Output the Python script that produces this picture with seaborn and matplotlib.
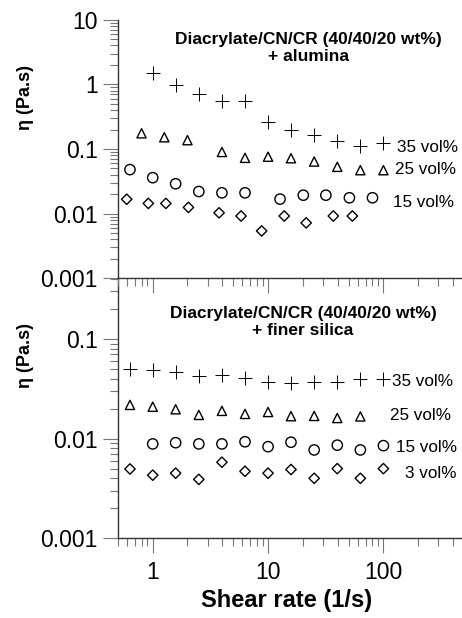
import numpy as np
import seaborn as sns
import matplotlib.pyplot as plt
import pandas as pd

sns.set_style("ticks")
plt.rcParams['font.family'] = ['Liberation Sans', 'DejaVu Sans']
plt.rcParams['text.color'] = 'black'
plt.rcParams['xtick.labelcolor'] = 'black'
plt.rcParams['ytick.labelcolor'] = 'black'

# painel superior: + alumina
alu_x_35 = [1.0, 1.58, 2.51, 3.98, 6.31, 10, 15.8, 25.1, 39.8, 63.1, 100]
alu_y_35 = [1.5, 0.98, 0.71, 0.56, 0.55, 0.26, 0.20, 0.164, 0.132, 0.112, 0.122]
alu_x_25 = [0.80, 1.26, 2.0, 3.98, 6.31, 10, 15.8, 25.1, 39.8, 63.1, 100]
alu_y_25 = [0.175, 0.152, 0.137, 0.090, 0.073, 0.076, 0.072, 0.064, 0.053, 0.047, 0.047]
alu_x_15 = [0.635, 1.0, 1.58, 2.51, 3.98, 6.31, 12.7, 20.2, 31.7, 50.7, 80.4]
alu_y_15 = [0.048, 0.036, 0.029, 0.022, 0.021, 0.021, 0.0168, 0.0193, 0.0193, 0.0176, 0.0176]
alu_x_3 = [0.595, 0.916, 1.30, 2.04, 3.76, 5.83, 8.8, 13.8, 21.4, 36.8, 53.8]
alu_y_3 = [0.0167, 0.0144, 0.0144, 0.0125, 0.0103, 0.0092, 0.0054, 0.0092, 0.0072, 0.0092, 0.0092]

# painel inferior: + finer silica
sil_x = [0.635, 1.0, 1.58, 2.51, 3.98, 6.31, 10, 15.8, 25.1, 39.8, 63.1, 100]
sil_y_35 = [0.0497, 0.0489, 0.047, 0.0426, 0.0432, 0.041, 0.0373, 0.0365, 0.0367, 0.0373, 0.0397, 0.0397]
sil_y_25 = [0.0218, 0.0209, 0.0197, 0.0173, 0.019, 0.0177, 0.0185, 0.0168, 0.0169, 0.0161, 0.0167]
sil_y_15 = [0.00885, 0.0091, 0.00885, 0.00885, 0.0093, 0.0083, 0.0092, 0.0077, 0.0086, 0.0077, 0.0085]
sil_x_15 = sil_x[1:]
sil_y_3 = [0.00496, 0.0043, 0.0045, 0.0039, 0.0058, 0.0047, 0.0045, 0.0049, 0.0040, 0.0050, 0.0040, 0.0050]

titulo_alu = "Diacrylate/CN/CR (40/40/20 wt%)\n+ alumina"
titulo_sil = "Diacrylate/CN/CR (40/40/20 wt%)\n+ finer silica"

fig = plt.figure(figsize=(4.62, 6.18), dpi=100)
ax2 = fig.add_axes([118/462, 1-538.3/618, 344/462, 260/618])
ax1 = fig.add_axes([118/462, 1-278.3/618, 344/462, 258.6/618])
ax1.patch.set_alpha(0)
ax2.patch.set_alpha(0)


def pontos(ax, x, y, marker, size):
    if marker == '+':
        sns.scatterplot(x=x, y=y, ax=ax, marker='+', color='black', s=size * 1.8,
                        linewidth=0.7)
    else:
        sns.scatterplot(x=x, y=y, ax=ax, marker=marker, facecolor='none',
                        edgecolor='black', s=size, linewidth=1.0)


pontos(ax1, alu_x_35, alu_y_35, '+', 55)
pontos(ax1, alu_x_25, alu_y_25, '^', 44)
pontos(ax1, alu_x_15, alu_y_15, 'o', 55)
pontos(ax1, alu_x_3, alu_y_3, 'D', 28)

pontos(ax2, sil_x, sil_y_35, '+', 55)
pontos(ax2, sil_x[:11], sil_y_25, '^', 44)
pontos(ax2, sil_x_15, sil_y_15, 'o', 55)
pontos(ax2, sil_x, sil_y_3, 'D', 28)

for ax in (ax1, ax2):
    ax.set_xscale('log')
    ax.set_yscale('log')
    ax.set_xlim(0.5, 480)
    for s in ('top', 'right'):
        ax.spines[s].set_visible(False)
    ax.spines['left'].set_color('#333333')
    ax.spines['bottom'].set_color('#333333')
    ax.spines['left'].set_linewidth(1.0)
    ax.spines['bottom'].set_linewidth(1.0)
    ax.tick_params(which='major', length=11, width=0.8, color='#777777',
                   labelsize=16.5, direction='out')
    ax.tick_params(which='minor', length=5.5, width=0.8, color='#777777', direction='out')
    ax.set_ylabel('')
    ax.set_xlabel('')

ax1.set_ylim(0.001, 10)
ax1.set_yticks([0.001, 0.01, 0.1, 1, 10])
ax1.set_yticklabels(['0.001', '0.01', '0.1', '1', '10'])
ax1.set_xticks([1, 10, 100])
ax1.tick_params(axis='x', labelbottom=False)

ax2.set_ylim(0.001, 0.406)
ax2.set_yticks([0.001, 0.01, 0.1])
ax2.set_yticklabels(['0.001', '0.01', '0.1'])
ax2.set_xticks([1, 10, 100])
ax2.set_xticklabels(['1', '10', '100'])
ax2.tick_params(axis='x', pad=5)

fig.text(308/462, 1-48/618, titulo_alu, ha='center', va='center',
         fontsize=12.5, fontweight='bold', linespacing=1.1)
fig.text(303/462, 1-322/618, titulo_sil, ha='center', va='center',
         fontsize=12.5, fontweight='bold', linespacing=1.1)

rot_alu = [('35 vol%', 397, 147), ('25 vol%', 395, 170), ('15 vol%', 393, 203)]
rot_sil = [('35 vol%', 392, 382), ('25 vol%', 390, 415), ('15 vol%', 396, 447), ('3 vol%', 405, 473)]
for txt, px, py in rot_alu + rot_sil:
    fig.text(px/462, 1-py/618, txt, ha='left', va='center', fontsize=12.3)

fig.text(26/462, 1-98/618, 'η (Pa.s)', rotation=90, ha='center', va='center',
         fontsize=13, fontweight='bold')
fig.text(26/462, 1-355/618, 'η (Pa.s)', rotation=90, ha='center', va='center',
         fontsize=13, fontweight='bold')
fig.text(287/462, 1-600/618, 'Shear rate (1/s)', ha='center', va='center',
         fontsize=17, fontweight='bold')

fig.savefig('out.png', dpi=100)
